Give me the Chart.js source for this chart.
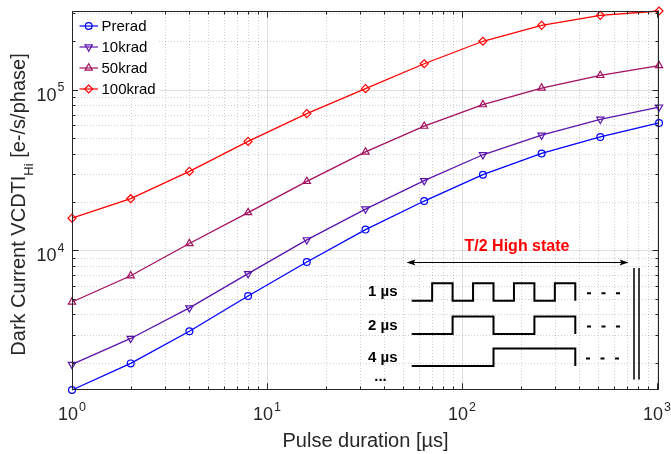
<!DOCTYPE html>
<html>
<head>
<meta charset="utf-8">
<script src="https://cdn.jsdelivr.net/npm/chart.js@4.4.0/dist/chart.umd.min.js"></script>
<style>
  body { margin: 0; background: #fff; }
  canvas { display: block; }
</style>
</head>
<body>
<canvas id="darkCurrent" width="671" height="454"></canvas>
<script>
// pulse durations [µs] and dark current per dose level [e-/s/phase]
const pulseDuration = [1, 2, 4, 8, 16, 32, 64, 128, 256, 512, 1024];
const prerad  = [1357, 1986, 3148, 5215, 8475, 13490, 20300, 29600, 40100, 50820, 62090];
const krad10  = [1958, 2838, 4395, 7180, 11650, 18100, 27170, 39370, 52100, 65440, 77930];
const krad50  = [4785, 6966, 11050, 17200, 26900, 41000, 59300, 80700, 102400, 122700, 141200];
const krad100 = [15880, 20990, 31030, 47650, 70980, 101400, 144900, 200000, 251200, 289700, 308400];

const seriesNames = ['Prerad', '10krad', '50krad', '100krad'];
const seriesValues = [prerad, krad10, krad50, krad100];

const xTickValues = [1, 10, 100, 1000];
const yTickValues = [1e4, 1e5];

// inset: pulse trains with half periods of 1, 2 and 4 units
const insetLabels = ['1 µs', '2 µs', '4 µs'];
const insetHalfPeriods = [1, 2, 4];

const colors = ['#0000ff', '#5a14ac', '#a2105f', '#ff0000'];
const markers = [
  { style: 'circle', radius: 3.4, rotation: 0 },
  { style: 'triangle', radius: 4.2, rotation: 180 },
  { style: 'triangle', radius: 4.2, rotation: 0 },
  { style: 'rectRot', radius: 4, rotation: 0 }
];

const FONT = "'Liberation Sans', Arial, Helvetica, sans-serif";
const AXIS_COLOR = '#262626';

const allValues = seriesValues.flat();
const yMin = Math.min(...allValues);
const yMax = Math.max(...allValues);

function drawMarker(ctx, m, x, y) {
  const r = m.radius;
  ctx.beginPath();
  if (m.style === 'circle') {
    ctx.arc(x, y, r, 0, Math.PI * 2);
  } else if (m.style === 'triangle') {
    let rad = m.rotation * Math.PI / 180;
    ctx.moveTo(x + Math.sin(rad) * r, y - Math.cos(rad) * r);
    rad += Math.PI * 2 / 3;
    ctx.lineTo(x + Math.sin(rad) * r, y - Math.cos(rad) * r);
    rad += Math.PI * 2 / 3;
    ctx.lineTo(x + Math.sin(rad) * r, y - Math.cos(rad) * r);
    ctx.closePath();
  } else {
    ctx.moveTo(x - r, y);
    ctx.lineTo(x, y - r);
    ctx.lineTo(x + r, y);
    ctx.lineTo(x, y + r);
    ctx.closePath();
  }
  ctx.stroke();
}

// "10" with a raised exponent, anchored by its horizontal alignment
function drawPower(ctx, exp, x, baseline, align) {
  const base = '10';
  ctx.font = '18px ' + FONT;
  const wb = ctx.measureText(base).width;
  ctx.font = '12.5px ' + FONT;
  const we = ctx.measureText(String(exp)).width;
  const total = wb + 1 + we;
  let left = x;
  if (align === 'center') left = x - total / 2;
  if (align === 'right') left = x - total;
  ctx.textAlign = 'left';
  ctx.textBaseline = 'alphabetic';
  ctx.font = '18px ' + FONT;
  ctx.fillText(base, left, baseline);
  ctx.font = '12.5px ' + FONT;
  ctx.fillText(String(exp), left + wb + 1, baseline - 9.5);
}

function minorValues(min, max) {
  const out = [];
  for (let d = Math.floor(Math.log10(min)); d <= Math.ceil(Math.log10(max)); d++) {
    for (let k = 1; k <= 9; k++) {
      const v = k * Math.pow(10, d);
      if (v > min && v < max) out.push({ v, major: k === 1 });
    }
  }
  return out;
}

const gridPlugin = {
  id: 'gridLines',
  beforeDatasetsDraw(chart) {
    const { ctx, chartArea: a, scales: { x, y } } = chart;
    ctx.save();
    ctx.lineWidth = 1;
    const xs = minorValues(x.min, x.max);
    const ys = minorValues(y.min, y.max);
    [false, true].forEach(major => {
      ctx.strokeStyle = major ? 'rgba(38,38,38,0.15)' : 'rgba(38,38,38,0.22)';
      ctx.setLineDash(major ? [] : [1, 2]);
      xs.filter(t => t.major === major).forEach(t => {
        const px = Math.round(x.getPixelForValue(t.v)) + 0.5;
        ctx.beginPath(); ctx.moveTo(px, a.top); ctx.lineTo(px, a.bottom); ctx.stroke();
      });
      ys.filter(t => t.major === major).forEach(t => {
        const py = Math.round(y.getPixelForValue(t.v)) + 0.5;
        ctx.beginPath(); ctx.moveTo(a.left, py); ctx.lineTo(a.right, py); ctx.stroke();
      });
    });
    ctx.restore();
  },
  afterDatasetsDraw(chart) {
    const { ctx, chartArea: a, scales: { x, y } } = chart;
    ctx.save();
    const L = Math.round(a.left) + 0.5, R = Math.round(a.right) - 0.5;
    const T = Math.round(a.top) + 0.5, B = Math.round(a.bottom) - 0.5;

    // axes box and inward ticks on all four sides
    ctx.strokeStyle = AXIS_COLOR;
    ctx.lineWidth = 1;
    ctx.strokeRect(L, T, R - L, B - T);
    ctx.beginPath();
    [...minorValues(x.min, x.max), ...xTickValues.map(v => ({ v, major: true }))].forEach(t => {
      const px = Math.round(x.getPixelForValue(t.v)) + 0.5;
      const len = t.major ? 6 : 3;
      ctx.moveTo(px, B); ctx.lineTo(px, B - len);
      ctx.moveTo(px, T); ctx.lineTo(px, T + len);
    });
    minorValues(y.min, y.max).forEach(t => {
      const py = Math.round(y.getPixelForValue(t.v)) + 0.5;
      const len = t.major ? 6 : 3;
      ctx.moveTo(L, py); ctx.lineTo(L + len, py);
      ctx.moveTo(R, py); ctx.lineTo(R - len, py);
    });
    ctx.stroke();

    // tick labels
    ctx.fillStyle = AXIS_COLOR;
    xTickValues.forEach(v => {
      drawPower(ctx, Math.round(Math.log10(v)), x.getPixelForValue(v), a.bottom + 30, 'center');
    });
    yTickValues.forEach(v => {
      drawPower(ctx, Math.round(Math.log10(v)), a.left - 7.5, y.getPixelForValue(v) + 11, 'right');
    });

    // axis titles
    ctx.font = '20px ' + FONT;
    ctx.textAlign = 'center';
    ctx.textBaseline = 'alphabetic';
    ctx.fillText('Pulse duration [µs]', (a.left + a.right) / 2, 446.5);

    ctx.save();
    ctx.translate(25, (a.top + a.bottom) / 2 + 4);
    ctx.rotate(-Math.PI / 2);
    const t1 = 'Dark Current VCDTI', t2 = 'Hi', t3 = ' [e-/s/phase]';
    ctx.font = '20px ' + FONT;
    const w1 = ctx.measureText(t1).width, w3 = ctx.measureText(t3).width;
    ctx.font = '13px ' + FONT;
    const w2 = ctx.measureText(t2).width;
    let sx = -(w1 + w2 + w3) / 2;
    ctx.textAlign = 'left';
    ctx.font = '20px ' + FONT;
    ctx.fillText(t1, sx, 0);
    ctx.font = '13px ' + FONT;
    ctx.fillText(t2, sx + w1, 8);
    ctx.font = '20px ' + FONT;
    ctx.fillText(t3, sx + w1 + w2, 0);
    ctx.restore();

    // legend
    ctx.fillStyle = '#ffffff';
    ctx.fillRect(a.left + 6, a.top + 3, 81, 81);
    ctx.font = '15px ' + FONT;
    ctx.textAlign = 'left';
    ctx.textBaseline = 'middle';
    seriesNames.forEach((name, i) => {
      const ly = 26 + i * 21;
      ctx.strokeStyle = colors[i];
      ctx.lineWidth = 1.2;
      ctx.beginPath(); ctx.moveTo(79.5, ly); ctx.lineTo(98, ly); ctx.stroke();
      drawMarker(ctx, markers[i], 88.7, ly);
      ctx.fillStyle = '#000000';
      ctx.fillText(name, 101.5, ly + 0.5);
    });

    // inset: T/2 high state pulse trains
    ctx.strokeStyle = '#000000';
    ctx.fillStyle = '#ff0000';
    ctx.font = 'bold 16px ' + FONT;
    ctx.textAlign = 'center';
    ctx.textBaseline = 'alphabetic';
    ctx.fillText('T/2 High state', 517, 250.5);

    const ay = 262.5, ax0 = 406.5, ax1 = 628.5;
    ctx.lineWidth = 1.2;
    ctx.beginPath(); ctx.moveTo(ax0 + 4, ay); ctx.lineTo(ax1 - 4, ay); ctx.stroke();
    ctx.fillStyle = '#000000';
    [[ax0, 1], [ax1, -1]].forEach(([px, dir]) => {
      ctx.beginPath();
      ctx.moveTo(px, ay);
      ctx.lineTo(px + dir * 9, ay - 3);
      ctx.lineTo(px + dir * 7, ay);
      ctx.lineTo(px + dir * 9, ay + 3);
      ctx.closePath();
      ctx.fill();
    });

    ctx.lineWidth = 1.5;
    ctx.beginPath();
    ctx.moveTo(634, 268); ctx.lineTo(634, 379.5);
    ctx.moveTo(639, 268); ctx.lineTo(639, 379.5);
    ctx.stroke();

    const x0 = 411.7, unit = 20.45, units = 8;
    const rowBase = [300.7, 334, 366];
    const rowHigh = 17.5;
    ctx.lineWidth = 2;
    ctx.lineJoin = 'miter';
    insetHalfPeriods.forEach((h, r) => {
      const base = rowBase[r], high = base - rowHigh;
      ctx.beginPath();
      ctx.moveTo(x0, base);
      let level = false;
      for (let u = h; u <= units; u += h) {
        const px = x0 + u * unit;
        ctx.lineTo(px, level ? high : base);
        level = !level;
        if (u < units) ctx.lineTo(px, level ? high : base);
      }
      ctx.lineTo(x0 + units * unit, base);
      ctx.stroke();

      // continuation dashes
      ctx.beginPath();
      [587, 601.5, 616].forEach(dx => {
        ctx.moveTo(dx - (r === 2 ? 1 : 0), base - 7.5);
        ctx.lineTo(dx + 4 - (r === 2 ? 1 : 0), base - 7.5);
      });
      ctx.stroke();

      ctx.font = 'bold 15px ' + FONT;
      ctx.textAlign = 'right';
      ctx.fillText(insetLabels[r], 397.5, base - 4.3);
    });
    ctx.textAlign = 'center';
    ctx.fillText('...', 380.5, 380.5);

    ctx.restore();
  }
};

const chart = new Chart(document.getElementById('darkCurrent'), {
  type: 'line',
  data: {
    datasets: seriesNames.map((name, i) => ({
      label: name,
      data: pulseDuration.map((d, j) => ({ x: d, y: seriesValues[i][j] })),
      borderColor: colors[i],
      borderWidth: 1.3,
      pointStyle: markers[i].style,
      pointRadius: markers[i].radius,
      pointRotation: markers[i].rotation,
      pointBorderColor: colors[i],
      pointBackgroundColor: 'rgba(0,0,0,0)',
      pointBorderWidth: 1.2,
      tension: 0,
      clip: false
    }))
  },
  options: {
    responsive: false,
    animation: false,
    devicePixelRatio: 1,
    layout: { padding: { left: 72, right: 12, top: 11, bottom: 64 } },
    scales: {
      x: { type: 'logarithmic', display: false, min: pulseDuration[0], max: pulseDuration[pulseDuration.length - 1] },
      y: { type: 'logarithmic', display: false, min: yMin, max: yMax }
    },
    plugins: { legend: { display: false }, tooltip: { enabled: false } }
  },
  plugins: [gridPlugin]
});
</script>
</body>
</html>
